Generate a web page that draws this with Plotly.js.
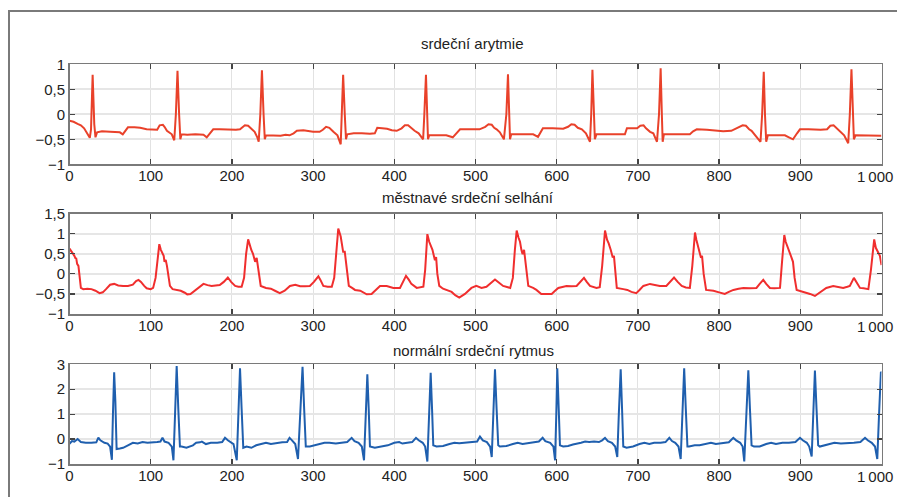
<!DOCTYPE html>
<html>
<head>
<meta charset="utf-8">
<script src="https://cdn.plot.ly/plotly-3.0.1.min.js"></script>
<style>
html,body{margin:0;padding:0;background:#fff;}
#chart{width:897px;height:497px;}
</style>
</head>
<body>
<div id="chart"></div>
<script>
// ---- Data ----
const titles = ["srdeční arytmie", "městnavé srdeční selhání", "normální srdeční rytmus"];
const xTickVals = [0, 100, 200, 300, 400, 500, 600, 700, 800, 900, 1000];
// last label is drawn separately (right-aligned at the axis end, as in the reference)
const xTickText = ["0", "100", "200", "300", "400", "500", "600", "700", "800", "900", ""];
const xEndLabel = "1\u2009000";
const xEndValue = 1000;

const arrX = [0,5,10,14,18,22,25,26.5,28.5,30.5,32,34,40,50,58,62,65.6,69,72,80,87,95,103,108,111,115,117,120,126,129,131,133,135,136.5,138,145,155,160,165,169,173,177,185,195,205,210,216,220,224,228,231,233,235,237,239,240.5,242,250,260,266,271,276,280,288,300,308,312,316,320,325,330,334,335.5,337,339,340.5,342,350,360,370,376,379,385,391,397,403,409,413,417,421,425,430,435.5,437,439,440.5,441.5,443,450,458,464,472,477,481,490,500,505,512,516,520,523,526,530,535,538,540,541.5,542.5,544,555,565,571,577,580,583,595,608,614,618,622,626,631,636,641,642.5,644,645.5,647,649,660,672,684,686.5,693,699,703,707,710,715,719,723.5,726,728,729.5,730.5,732,745,755,764,768,772.5,785,795,805,815,823,829,833,837,840,845,851,853,855,856.5,858,860,870,881,886,891,896,899.6,910,925,933,937,941,945,949,954,959,961,963,964.5,966,968,980,990,1000];
const arrY = [-0.13,-0.15,-0.19,-0.22,-0.28,-0.38,-0.47,-0.3,0.79,-0.2,-0.46,-0.36,-0.34,-0.35,-0.35,-0.36,-0.40,-0.33,-0.26,-0.26,-0.27,-0.3,-0.31,-0.31,-0.22,-0.21,-0.25,-0.33,-0.4,-0.52,0.0,0.87,0.0,-0.5,-0.4,-0.41,-0.4,-0.41,-0.41,-0.46,-0.38,-0.3,-0.3,-0.31,-0.31,-0.3,-0.22,-0.23,-0.3,-0.35,-0.45,-0.55,0.0,0.88,0.0,-0.5,-0.42,-0.42,-0.43,-0.41,-0.42,-0.38,-0.33,-0.32,-0.35,-0.35,-0.31,-0.25,-0.27,-0.35,-0.42,-0.6,0.0,0.79,0.0,-0.5,-0.4,-0.38,-0.38,-0.39,-0.38,-0.27,-0.28,-0.29,-0.32,-0.33,-0.28,-0.22,-0.22,-0.28,-0.33,-0.38,-0.5,0.0,0.79,0.0,-0.5,-0.42,-0.42,-0.41,-0.42,-0.46,-0.38,-0.3,-0.3,-0.31,-0.3,-0.25,-0.2,-0.21,-0.27,-0.3,-0.36,-0.5,0.0,0.8,0.0,-0.5,-0.4,-0.4,-0.41,-0.4,-0.45,-0.36,-0.28,-0.28,-0.29,-0.25,-0.2,-0.21,-0.27,-0.3,-0.38,-0.55,0.0,0.89,0.0,-0.5,-0.4,-0.4,-0.41,-0.4,-0.28,-0.28,-0.28,-0.23,-0.22,-0.28,-0.35,-0.38,-0.55,0.0,0.92,0.0,-0.55,-0.4,-0.4,-0.41,-0.4,-0.34,-0.3,-0.31,-0.32,-0.34,-0.33,-0.26,-0.22,-0.23,-0.3,-0.33,-0.42,-0.55,0.0,0.85,0.0,-0.55,-0.42,-0.42,-0.42,-0.46,-0.5,-0.38,-0.3,-0.3,-0.31,-0.3,-0.23,-0.22,-0.28,-0.35,-0.42,-0.58,0.0,0.9,0.0,-0.5,-0.42,-0.42,-0.42,-0.43];

const chfX = [0,2,4,6,7.5,8.2,9.4,11,12.5,14,17,22,27,32,37,41,45,50,55,60,66,72,78,82,85,88,92,95,100,103,106,108.5,110.6,112.5,114.7,116,117,118.5,120,122,123.7,127,132,137,142,145,149,154,160.7,165,170,175,180,185,190,195,199,204,208,212,215,217.5,220,222,224,226,228.6,230.5,232.5,235.5,242,248,253,259,265,271.5,278,284,290,296,301,306.5,309,312.6,318,323,326,328.5,331,334,336,337,339,340.5,342,344,348,351.6,358,362,366,372,377,382.4,390.6,398.8,407,411,414.4,418,421,427.6,435.8,438,440.7,443,444.8,447,450,451.5,453,455.4,460,464.5,470.6,475,480,487,491,495,501,507.4,513.5,519,524,529,534,542.7,546,548.5,550.7,553,554.8,556.5,558,559.8,561.5,563,565,571,575,581,588,593.8,598,602,612,618,624.5,629,633.6,637,641,649,653,656,659.5,662,664,666.5,668,669,670.5,672,674,682,687,692,698,702,706.7,714.9,721,727,735,740,744.5,749,754,759,764,767,770.3,772,773.6,776,777.7,779,781,784,789,793,800,807,812,817.6,824,830,838,846,850,854.4,858,862.6,868,875,877.5,880.3,882,884,886,887.5,889.3,891,893,895.5,899,903.7,908,912,918,925,932,940.5,946,952.8,958,961,966,970,973.5,978,983.8,987,991,993,994.5,996,998,1000];
const chfY = [0.63,0.55,0.51,0.45,0.38,0.4,0.25,0.2,-0.1,-0.35,-0.38,-0.37,-0.38,-0.42,-0.48,-0.46,-0.38,-0.27,-0.25,-0.29,-0.3,-0.3,-0.27,-0.18,-0.15,-0.2,-0.3,-0.36,-0.38,-0.35,-0.1,0.4,0.74,0.6,0.49,0.45,0.3,0.35,0.2,-0.1,-0.3,-0.38,-0.4,-0.42,-0.47,-0.51,-0.5,-0.42,-0.3,-0.25,-0.28,-0.3,-0.29,-0.28,-0.2,-0.09,-0.2,-0.3,-0.32,-0.32,-0.1,0.5,0.86,0.7,0.59,0.5,0.3,0.4,0.1,-0.3,-0.35,-0.37,-0.42,-0.48,-0.42,-0.3,-0.27,-0.31,-0.31,-0.3,-0.2,-0.06,-0.15,-0.3,-0.32,-0.32,-0.1,0.6,1.13,0.93,0.7,0.55,0.55,0.3,0.0,-0.3,-0.35,-0.4,-0.42,-0.47,-0.51,-0.5,-0.4,-0.3,-0.3,-0.35,-0.35,-0.2,-0.05,-0.15,-0.25,-0.35,-0.32,0.1,0.99,0.8,0.7,0.6,0.34,0.42,0.0,-0.3,-0.37,-0.4,-0.45,-0.53,-0.59,-0.5,-0.42,-0.35,-0.3,-0.35,-0.32,-0.22,-0.14,-0.22,-0.3,-0.35,-0.1,0.6,1.08,0.9,0.8,0.6,0.49,0.6,0.3,-0.1,-0.3,-0.35,-0.4,-0.5,-0.51,-0.5,-0.42,-0.35,-0.3,-0.31,-0.3,-0.2,-0.1,-0.2,-0.3,-0.35,-0.33,0.2,1.08,0.85,0.76,0.6,0.5,0.41,0.45,0.0,-0.35,-0.38,-0.4,-0.45,-0.48,-0.4,-0.3,-0.25,-0.28,-0.3,-0.3,-0.18,-0.09,-0.2,-0.3,-0.34,-0.35,0.2,1.03,0.85,0.7,0.55,0.4,0.45,0.0,-0.4,-0.41,-0.42,-0.46,-0.5,-0.45,-0.4,-0.37,-0.35,-0.36,-0.35,-0.25,-0.15,-0.25,-0.35,-0.36,-0.35,0.3,0.97,0.8,0.7,0.6,0.5,0.4,0.3,-0.1,-0.4,-0.42,-0.45,-0.47,-0.5,-0.55,-0.45,-0.35,-0.3,-0.33,-0.35,-0.32,-0.3,-0.1,-0.25,-0.35,-0.36,-0.38,0.1,0.86,0.65,0.6,0.55,0.45,0.22];

const nsrX = [0,3,6,10,14,20,27,33,35.5,38,43,47,50,52.2,53.5,55,56.5,58,62,66,72,78,84,90,96,102,108,112,114.5,117,122,126,128,130,132,134,136,138,144,152,156,160.7,163,168,174,182,188,191.5,195,202,206,208,210,212,214,218,224,230,236,242,248,255,262,268,271,274,278,281.4,284,287,289,291,296,302,308,314,320,328,335,342,347.5,351,356,360,362.7,364.5,366.8,368.5,370,376,384,392,400,406,410,416,422,426.7,430,435,438,440.7,442.5,444.8,446.5,448,452,460,468,474,480,488,496,502,505.5,509,514,518,520,522,524,526,528,530,538,546,552,558,565,572,578,582.7,586,592,596,598,599.5,600.7,602.5,604,608,614,620,625,630,635,640,646,652,656,659.5,663,668,672,674.6,676.5,678.8,680.5,682,686,694,702,708,714,720,728,734,738.7,742,746,750,752.7,755,757,759,761,763,770,776,784,790,796,804,812,817.5,821,826,829,831,833.5,836,838,840,843,850,858,864,870,878,886,894,899.6,903,908,911,914,916,918,920,922,924,930,936,942,950,958,966,974,979.7,983,988,992,994.8,997,999.3,1000];
const nsrY = [-0.19,-0.08,-0.1,0.0,-0.12,-0.15,-0.15,-0.13,0.06,-0.05,-0.15,-0.18,-0.3,-0.83,1.0,2.68,1.5,-0.4,-0.38,-0.35,-0.25,-0.15,-0.18,-0.12,-0.15,-0.15,-0.12,-0.1,0.05,-0.1,-0.15,-0.3,-0.85,1.0,2.93,1.2,-0.3,-0.3,-0.35,-0.25,-0.15,-0.13,-0.1,-0.2,-0.15,-0.15,-0.12,0.05,-0.05,-0.2,-0.85,1.0,2.84,1.2,-0.35,-0.3,-0.35,-0.25,-0.2,-0.15,-0.2,-0.15,-0.13,-0.12,0.05,-0.05,-0.2,-0.8,1.0,2.9,1.2,-0.3,-0.3,-0.25,-0.2,-0.15,-0.15,-0.18,-0.15,-0.12,0.05,-0.08,-0.15,-0.3,-0.85,1.0,2.6,1.2,-0.3,-0.35,-0.3,-0.25,-0.15,-0.12,-0.18,-0.15,-0.12,0.05,-0.05,-0.15,-0.3,-0.9,1.0,2.66,1.2,-0.25,-0.3,-0.28,-0.2,-0.15,-0.17,-0.15,-0.13,-0.1,0.1,-0.05,-0.12,-0.3,-0.72,1.0,2.8,1.2,-0.25,-0.3,-0.28,-0.2,-0.15,-0.2,-0.15,-0.13,-0.1,0.05,-0.08,-0.15,-0.3,-0.85,1.0,2.84,1.2,-0.25,-0.3,-0.28,-0.22,-0.2,-0.15,-0.1,-0.12,-0.1,-0.12,-0.05,0.05,-0.08,-0.15,-0.3,-0.72,1.0,2.8,1.2,-0.3,-0.35,-0.3,-0.2,-0.15,-0.2,-0.15,-0.15,-0.12,0.05,-0.08,-0.15,-0.3,-0.8,1.0,2.84,1.2,-0.3,-0.3,-0.25,-0.25,-0.18,-0.15,-0.2,-0.15,-0.13,0.05,-0.05,-0.15,-0.3,-0.9,1.0,2.76,1.2,-0.25,-0.3,-0.3,-0.2,-0.15,-0.2,-0.15,-0.15,-0.12,0.05,-0.05,-0.15,-0.3,-0.7,1.0,2.75,1.2,-0.25,-0.3,-0.25,-0.2,-0.15,-0.18,-0.15,-0.15,-0.12,0.05,-0.05,-0.15,-0.3,-0.8,1.0,2.7,2.65];

const yRanges = [[-1, 1], [-1, 1.5], [-1, 3]];
const yDticks = [0.5, 0.5, 1];
const colors = ["#e9412a", "#f02e2e", "#1f5fae"];

// ---- Layout helpers (pixel geometry) ----
const W = 897, H = 497;
const px = v => v / W;
const py = v => 1 - v / H;
const xDom = [px(69.5), px(881.5)];
const yPix = [[64.3, 164.3], [213.7, 314], [364.3, 464]];
const titlePix = [[472.5, 43.5], [468, 198], [473, 350.5]];
const endLabelPixY = [176.5, 326.5, 476.5];

const FONT = "Liberation Sans, Arial, Helvetica, sans-serif";

const traces = [
  {x: arrX, y: arrY},
  {x: chfX, y: chfY},
  {x: nsrX, y: nsrY}
].map((d, i) => ({
  x: d.x, y: d.y, type: "scatter", mode: "lines",
  xaxis: i === 0 ? "x" : "x" + (i + 1),
  yaxis: i === 0 ? "y" : "y" + (i + 1),
  line: {color: colors[i], width: 2},
  hoverinfo: "skip", showlegend: false
}));

const annotations = titles.map((t, i) => ({
  text: t, xref: "paper", yref: "paper",
  x: px(titlePix[i][0]), y: py(titlePix[i][1]),
  xanchor: "center", yanchor: "middle", showarrow: false,
  font: {family: FONT, size: 15, color: "#222"}
}));
for (let i = 0; i < 3; i++) {
  annotations.push({
    text: xEndLabel, xref: i === 0 ? "x" : "x" + (i + 1), yref: "paper",
    x: xEndValue, y: py(endLabelPixY[i]),
    xanchor: "right", yanchor: "middle", xshift: 12, showarrow: false,
    borderpad: 0,
    font: {family: FONT, size: 15, color: "#222"}
  });
}

const layout = {
  width: W, height: H,
  margin: {l: 0, r: 0, t: 0, b: 0, pad: 0},
  paper_bgcolor: "#fff", plot_bgcolor: "#fff",
  separators: ", ",
  font: {family: FONT, size: 15, color: "#222"},
  showlegend: false,
  annotations: annotations,
  shapes: [{
    type: "rect", xref: "paper", yref: "paper",
    x0: px(9), x1: px(920), y0: py(530), y1: py(11),
    line: {color: "#7a7a7a", width: 2}, fillcolor: "rgba(0,0,0,0)", layer: "below"
  }]
};

for (let i = 0; i < 3; i++) {
  const s = i === 0 ? "" : String(i + 1);
  layout["xaxis" + s] = {
    domain: xDom, anchor: "y" + s, range: [0, 1000],
    tickmode: "array", tickvals: xTickVals, ticktext: xTickText,
    ticklabelstandoff: -3,
    showgrid: true, gridcolor: "#e2e2e2", gridwidth: 1,
    zeroline: false, showline: true, linecolor: "#7a7a7a", linewidth: 1.5,
    mirror: "allticks", ticks: "inside", ticklen: 5, tickcolor: "#444", tickwidth: 1.2,
    tickfont: {family: FONT, size: 15, color: "#222"},
    automargin: false, fixedrange: true
  };
  layout["yaxis" + s] = {
    domain: [py(yPix[i][1]), py(yPix[i][0])], anchor: "x" + s,
    range: yRanges[i], dtick: yDticks[i], tick0: 0,
    ticklabeloverflow: "allow",
    showgrid: true, gridcolor: "#e6e6e6", gridwidth: 2,
    zeroline: false, showline: true, linecolor: "#7a7a7a", linewidth: 1.5,
    mirror: "allticks", ticks: "inside", ticklen: 5, tickcolor: "#444", tickwidth: 1.2,
    tickfont: {family: FONT, size: 15, color: "#222"},
    automargin: false, fixedrange: true
  };
}

Plotly.newPlot("chart", traces, layout, {displayModeBar: false, staticPlot: true});
</script>
</body>
</html>
